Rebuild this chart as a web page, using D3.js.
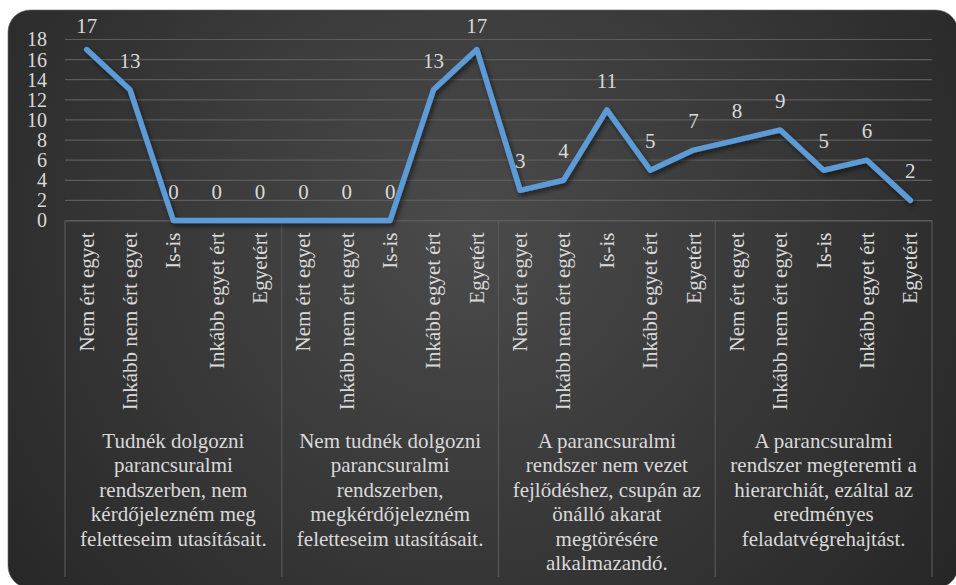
<!DOCTYPE html>
<html>
<head>
<meta charset="utf-8">
<script src="https://cdn.jsdelivr.net/npm/d3@7"></script>
<style>
  html, body { margin: 0; padding: 0; background: #ffffff; }
  svg { display: block; }
</style>
</head>
<body>
<svg id="chart" width="956" height="585" font-family="Liberation Serif"></svg>
<script>
// Answer options repeated under each statement
const responses = ["Nem ért egyet", "Inkább nem ért egyet", "Is-is", "Inkább egyet ért", "Egyetért"];

// Statements (one group of five answers each), already broken into lines
const statements = [
  ["Tudnék dolgozni", "parancsuralmi", "rendszerben, nem", "kérdőjelezném meg", "feletteseim utasításait."],
  ["Nem tudnék dolgozni", "parancsuralmi", "rendszerben,", "megkérdőjelezném", "feletteseim utasításait."],
  ["A parancsuralmi", "rendszer nem vezet", "fejlődéshez, csupán az", "önálló akarat", "megtörésére", "alkalmazandó."],
  ["A parancsuralmi", "rendszer megteremti a", "hierarchiát, ezáltal az", "eredményes", "feladatvégrehajtást."]
];

// Number of respondents per statement, in answer order
const counts1 = [17, 13, 0, 0, 0];
const counts2 = [0, 0, 0, 13, 17];
const counts3 = [3, 4, 11, 5, 7];
const counts4 = [8, 9, 5, 6, 2];

const yTicks = [0, 2, 4, 6, 8, 10, 12, 14, 16, 18];

const seriesValues = [counts1, counts2, counts3, counts4].flat();
const categories = statements.flatMap((s, gi) => responses.map((r, ri) => ({ key: gi + "-" + ri, label: r })));

const FONT = "Liberation Serif";
const TEXT_FILL = "#d9d9d9";

const svg = d3.select("#chart");
const defs = svg.append("defs");

const bg = defs.append("radialGradient")
  .attr("id", "bgGrad")
  .attr("gradientUnits", "userSpaceOnUse")
  .attr("cx", 470).attr("cy", 230).attr("r", 620);
bg.append("stop").attr("offset", "0%").attr("stop-color", "#4b4b4b");
bg.append("stop").attr("offset", "100%").attr("stop-color", "#252525");

const shadow = defs.append("filter").attr("id", "lineShadow")
  .attr("x", "-10%").attr("y", "-10%").attr("width", "120%").attr("height", "130%");
shadow.append("feDropShadow")
  .attr("dx", 2).attr("dy", 3).attr("stdDeviation", 2.5)
  .attr("flood-color", "#000").attr("flood-opacity", 0.55);

// Card background
svg.append("rect")
  .attr("x", 8).attr("y", 10)
  .attr("width", 950).attr("height", 578)
  .attr("rx", 22).attr("ry", 22)
  .attr("fill", "url(#bgGrad)")
  .attr("stroke", "#6a6a6a").attr("stroke-width", 0.6);

const plotLeft = 65, plotRight = 932, plotTop = 39.5, plotBottom = 220.5;

const x = d3.scaleBand()
  .domain(categories.map(d => d.key))
  .range([plotLeft, plotRight])
  .padding(0);

const y = d3.scaleLinear().domain([0, 18]).range([plotBottom, plotTop]);

// Horizontal gridlines
svg.append("g")
  .selectAll("line")
  .data(yTicks)
  .join("line")
  .attr("x1", plotLeft).attr("x2", plotRight)
  .attr("y1", d => y(d)).attr("y2", d => y(d))
  .attr("stroke", "#5c5c5c").attr("stroke-width", 1.2);

// Y axis labels
const yAxis = d3.axisLeft(y).tickValues(yTicks).tickSize(0).tickPadding(18);
const yG = svg.append("g").attr("transform", `translate(${plotLeft},0)`).call(yAxis);
yG.attr("font-family", FONT).attr("font-size", 20);
yG.select(".domain").remove();
yG.selectAll("text")
  .attr("font-family", FONT)
  .attr("font-size", 20)
  .attr("fill", TEXT_FILL);

// Group separators of the category axis
const groupEdges = d3.range(statements.length + 1).map(i =>
  i < statements.length ? x(i + "-0") : plotRight);
svg.append("g")
  .selectAll("line")
  .data(groupEdges)
  .join("line")
  .attr("x1", d => d).attr("x2", d => d)
  .attr("y1", plotBottom).attr("y2", 577)
  .attr("stroke", "#575757").attr("stroke-width", 1.2);

// Category tick labels (rotated)
const xAxis = d3.axisBottom(x).tickSize(0).tickFormat((d, i) => categories[i].label);
const xG = svg.append("g").attr("transform", `translate(0,${plotBottom})`).call(xAxis);
xG.attr("font-family", FONT).attr("font-size", 21);
xG.select(".domain").attr("stroke", "#5c5c5c").attr("stroke-width", 1.2);
xG.selectAll(".tick text")
  .attr("font-family", FONT)
  .attr("font-size", 21)
  .attr("fill", TEXT_FILL)
  .attr("text-anchor", "end")
  .attr("transform", "translate(0,12) rotate(-90)")
  .attr("x", 0).attr("y", 0)
  .attr("dy", "0.33em");

// Statement labels centered under each group
const groupG = svg.append("g");
statements.forEach((lines, gi) => {
  const cx = (groupEdges[gi] + groupEdges[gi + 1]) / 2;
  const t = groupG.append("text")
    .attr("text-anchor", "middle")
    .attr("font-family", FONT)
    .attr("font-size", 21)
    .attr("fill", TEXT_FILL);
  lines.forEach((ln, li) => {
    t.append("tspan").attr("x", cx).attr("y", 448 + li * 24.4).text(ln);
  });
});

// Data line
const pts = categories.map((c, i) => ({ cx: x(c.key) + x.bandwidth() / 2, v: seriesValues[i] }));
const line = d3.line().x(d => d.cx).y(d => y(d.v));
svg.append("path")
  .datum(pts)
  .attr("d", line)
  .attr("fill", "none")
  .attr("stroke", "#5b9bd5")
  .attr("stroke-width", 5.5)
  .attr("stroke-linejoin", "round")
  .attr("stroke-linecap", "round")
  .attr("filter", "url(#lineShadow)");

// Value labels
svg.append("g")
  .selectAll("text")
  .data(pts)
  .join("text")
  .attr("x", d => d.cx)
  .attr("y", d => Math.max(y(d.v) - 22, 33))
  .attr("text-anchor", "middle")
  .attr("font-family", FONT)
  .attr("font-size", 21)
  .attr("fill", TEXT_FILL)
  .text(d => d.v);
</script>
</body>
</html>
